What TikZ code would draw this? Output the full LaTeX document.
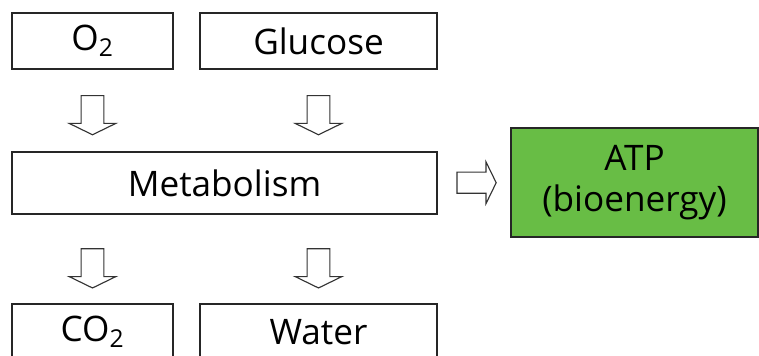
\documentclass[tikz,border=0pt]{standalone}
\usepackage{fontspec}
\setmainfont{Open Sans}
\usetikzlibrary{shapes.arrows,calc}
\definecolor{atpgreen}{RGB}{104,189,69}

\begin{document}
\begin{tikzpicture}[
  box/.style={draw=black!85, line width=1pt, minimum height=1.4cm, inner sep=0pt,
    font=\fontsize{25}{29}\selectfont},
  bigarrow/.style={single arrow, draw=black!80, line width=0.8pt, fill=white,
    inner xsep=0pt, inner ysep=0.27cm, minimum height=0.98cm,
    single arrow head extend=0.3cm, single arrow tip angle=128}
]
  \useasboundingbox (0,0) rectangle (18.975,-8.9);

  % Entradas
  \node[box, minimum width=4.025cm] (o2) at (2.3125,-1.025) {O\textsubscript{2}};
  \node[box, minimum width=5.925cm] (glucose) at (7.9625,-1.025) {Glucose};

  % Metabolismo y producto
  \node[box, minimum width=10.625cm, minimum height=1.55cm] (metab) at (5.6125,-4.575) {Metabolism};
  \node[box, fill=atpgreen, minimum width=6.175cm, minimum height=2.725cm, align=center]
    (atp) at (15.8625,-4.5625) {ATP\\(bioenergy)};

  % Salidas
  \node[box, minimum width=4.025cm] (co2) at (2.3125,-8.3) {CO\textsubscript{2}};
  \node[box, minimum width=5.925cm] (water) at (7.9625,-8.3) {Water};

  % Flechas huecas
  \foreach \n in {o2,glucose}
    \node[bigarrow, rotate=-90] (in\n) at (\n |- 0,-2.81) {};
  \foreach \n in {co2,water}
    \node[bigarrow, rotate=-90] (out\n) at (\n |- 0,-6.64) {};
  \node[bigarrow, inner ysep=0.25cm, single arrow head extend=0.26cm] (toatp)
    at ($(metab.east)!0.5!(atp.west)$) {};
\end{tikzpicture}
\end{document}
